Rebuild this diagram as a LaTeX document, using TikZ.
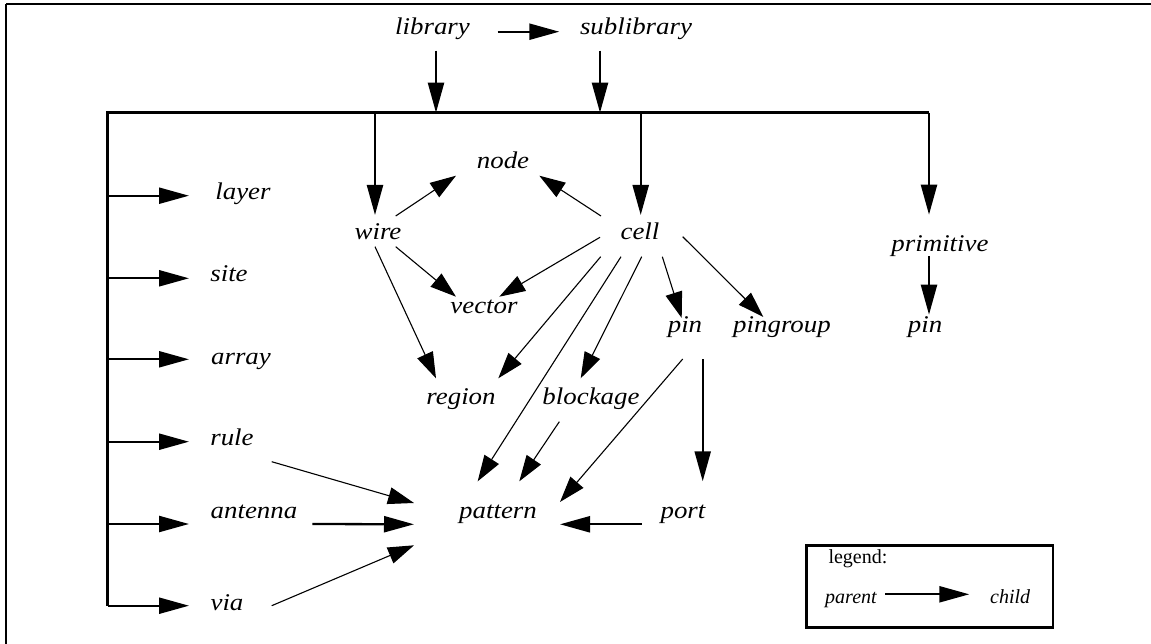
\documentclass[tikz,border=0pt]{standalone}
\usepackage{fontspec}
\setmainfont{Liberation Serif}
\newfontfamily\labfont{Liberation Serif}[FakeStretch=1.12]
\usetikzlibrary{arrows.meta,calc}
\tikzset{
  lab/.style={inner sep=0pt, anchor=base, text height=15pt, text depth=5pt,
    font=\labfont\itshape\fontsize{24}{28}\selectfont},
  leglab/.style={inner sep=0pt, anchor=base, text height=14pt, text depth=4pt,
    font=\fontsize{20}{24}\selectfont},
  thinarrow/.style={line width=1.1pt, -{Triangle[length=26pt,width=17pt]}},
  thickarrow/.style={line width=2.3pt, -{Triangle[length=30pt,width=16pt]}},
  busline/.style={line width=2.5pt},
  frameline/.style={line width=2.8pt},
}
\begin{document}
\begin{tikzpicture}[x=1pt,y=-1pt]
\useasboundingbox (0,0) rectangle (1151,644);
% frame (top and left edges)
\draw[frameline] (6,4) -- (1151,4);
\draw[frameline] (6,4) -- (6,644);

% labels
\node[lab] (library) at (432.5,35) {library};
\node[lab] (sublibrary) at (636,35) {sublibrary};
\node[lab] (layer) at (243,200) {layer};
\node[lab] (site) at (229,281.7) {site};
\node[lab] (array) at (241,364.3) {array};
\node[lab] (rule) at (232,445.7) {rule};
\node[lab] (antenna) at (254,518.3) {antenna};
\node[lab] (via) at (227,610) {via};
\node[lab] (wire) at (378,240) {wire};
\node[lab] (node) at (503,169) {node};
\node[lab] (cell) at (640,240) {cell};
\node[lab] (vector) at (484,313) {vector};
\node[lab] (region) at (461,404) {region};
\node[lab] (blockage) at (591,404) {blockage};
\node[lab] (pin) at (685,332.7) {pin};
\node[lab] (pingroup) at (782,332.7) {pingroup};
\node[lab] (primitive) at (940,251.7) {primitive};
\node[lab] (pinb) at (925,332.7) {pin};
\node[lab] (pattern) at (498,518.3) {pattern};
\node[lab] (port) at (683,518.3) {port};

% bus
\coordinate (busL) at (107.5,112.7);
\coordinate (busR) at (929,112.7);
\coordinate (tlayer) at ($(layer)+(-54,0.7)$);
\coordinate (tsite) at ($(site)+(-40,1.6)$);
\coordinate (tarray) at ($(array)+(-52,0)$);
\coordinate (trule) at ($(rule)+(-43,1)$);
\coordinate (tantenna) at ($(antenna)+(-65,10.7)$);
\coordinate (tvia) at ($(via)+(-38,0.7)$);
\draw[busline] (tvia -| busL) -- (busL) -- (busR);

% branches from the left bar
\foreach \t in {tlayer,tsite,tarray,trule,tantenna,tvia}
  \draw[thickarrow] (\t -| busL) -- (\t);

% branches from the top bus
\coordinate (twire) at ($(wire)+(-3,-20)$);
\coordinate (tcell) at ($(cell)+(0.7,-20)$);
\coordinate (tprim) at ($(primitive)+(-11,-32)$);
\draw[thickarrow] (twire |- busL) -- (twire);
\draw[thickarrow] (tcell |- busL) -- (tcell);
\draw[thickarrow] (tprim |- busL) -- (tprim);

% library / sublibrary
\coordinate (slib) at ($(library)+(3.5,20.7)$);
\coordinate (ssub) at ($(sublibrary)+(-36,20.7)$);
\draw[thickarrow] (slib) -- (slib |- busL);
\draw[thickarrow] (ssub) -- (ssub |- busL);
\draw[thickarrow] ($(library)+(65.2,1.7)$) -- ($(sublibrary)+(-76.7,1.7)$);

% wire
\draw[thinarrow] ($(wire)+(17.7,-19)$) -- ($(node)+(-47,11.7)$);
\draw[thinarrow] ($(wire)+(17.7,11.7)$) -- ($(vector)+(-28,-11.3)$);
\draw[thinarrow] ($(wire)+(-3,11.7)$) -- ($(region)+(-25,-20.7)$);

% cell
\draw[thinarrow] ($(cell)+(-39,-19)$) -- ($(node)+(36.3,11.7)$);
\draw[thinarrow] ($(cell)+(-40,2.3)$) -- ($(vector)+(15.3,-11.3)$);
\draw[thinarrow] ($(cell)+(-39.3,21.7)$) -- ($(region)+(37.3,-20.7)$);
\draw[thinarrow] ($(cell)+(-19,21.7)$) -- ($(pattern)+(-20.3,-32)$);
\draw[thinarrow] ($(cell)+(1.7,21.7)$) -- ($(blockage)+(-10.3,-20.7)$);
\draw[thinarrow] ($(cell)+(22.3,21.7)$) -- ($(pin)+(-3.3,-9.7)$);
\draw[thinarrow] ($(cell)+(42.7,1.7)$) -- ($(pingroup)+(-18.7,-10.7)$);

% pin, blockage, port
\draw[thinarrow] ($(pin)+(-2.3,31.3)$) -- ($(pattern)+(62,-11.3)$);
\draw[thickarrow] ($(pin)+(17.7,31.3)$) -- ($(port)+(19.7,-32)$);
\draw[thinarrow] ($(blockage)+(-31.7,22.7)$) -- ($(pattern)+(21.3,-32)$);
\draw[thickarrow] ($(port)+(-41.3,11)$) -- ($(pattern)+(62,11)$);

% rule, antenna, via
\draw[thinarrow] ($(rule)+(39.7,21)$) -- ($(pattern)+(-84,-10.3)$);
\draw[thickarrow] ($(antenna)+(58.3,10.7)$) -- ($(pattern)+(-84,11)$);
\draw[thinarrow] ($(via)+(44.7,0.7)$) -- ($(pattern)+(-84,32)$);

% primitive
\draw[thickarrow] ($(primitive)+(-11,9.7)$) -- ($(pinb)+(4,-13)$);

% legend
\node[draw, line width=2.5pt, inner sep=0pt, minimum width=246.7pt, minimum height=82pt, anchor=north west] (legendbox) at (805,544) {};
\node[leglab, anchor=base west] (legendtitle) at (828.3,563.3) {legend:};
\node[leglab, anchor=base west, font=\itshape\fontsize{20}{24}\selectfont] (parent) at (825,603.3) {parent};
\node[leglab, anchor=base west, font=\itshape\fontsize{20}{24}\selectfont] (child) at (990,603.3) {child};
\draw[thickarrow] ($([yshift=4pt]parent.east)+(8.3,0)$) -- ($([yshift=4pt]child.west)+(-20.7,0)$);
\end{tikzpicture}
\end{document}
